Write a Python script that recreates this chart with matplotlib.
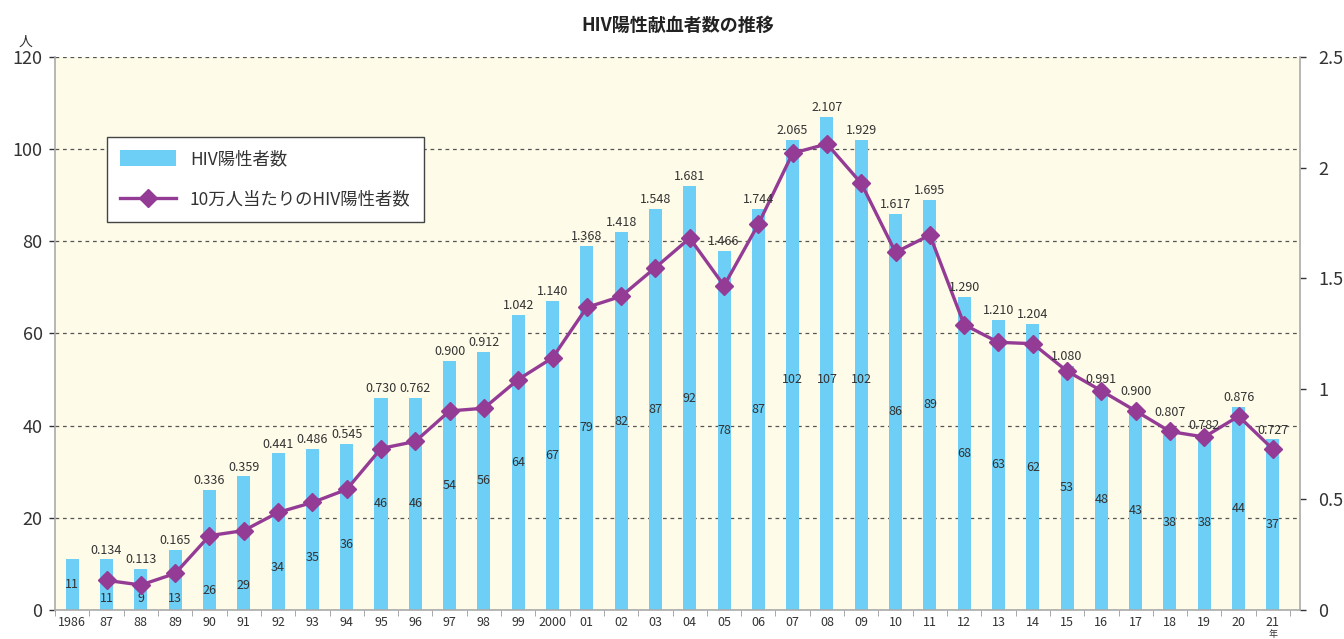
import matplotlib
matplotlib.use("Agg")
import numpy as np
import matplotlib.pyplot as plt
from matplotlib.patches import Patch
from matplotlib.lines import Line2D

plt.rcParams["font.family"] = ["Noto Sans CJK JP", "DejaVu Sans"]

# -----------------------------
# Data
# -----------------------------
years = ["1986", "87", "88", "89", "90", "91", "92", "93", "94", "95", "96", "97",
         "98", "99", "2000", "01", "02", "03", "04", "05", "06", "07", "08", "09",
         "10", "11", "12", "13", "14", "15", "16", "17", "18", "19", "20", "21"]
counts = [11, 11, 9, 13, 26, 29, 34, 35, 36, 46, 46, 54,
          56, 64, 67, 79, 82, 87, 92, 78, 87, 102, 107, 102,
          86, 89, 68, 63, 62, 53, 48, 43, 38, 38, 44, 37]
# 1986: no rate given
rates = [np.nan, 0.134, 0.113, 0.165, 0.336, 0.359, 0.441, 0.486, 0.545, 0.730, 0.762, 0.900,
         0.912, 1.042, 1.140, 1.368, 1.418, 1.548, 1.681, 1.466, 1.744, 2.065, 2.107, 1.929,
         1.617, 1.695, 1.290, 1.210, 1.204, 1.080, 0.991, 0.900, 0.807, 0.782, 0.876, 0.727]

title = "HIV陽性献血者数の推移"
bar_label = "HIV陽性者数"
line_label = "10万人当たりのHIV陽性者数"

bar_color = "#6dcff6"
line_color = "#943c95"
bg_color = "#fefbe8"
text_color = "#333333"

# -----------------------------
# Figure
# -----------------------------
fig = plt.figure(figsize=(13.44, 6.39), dpi=100)
ax = fig.add_axes([0.041, 0.0454, 0.9265, 0.8654])
ax.set_facecolor(bg_color)

x = np.arange(len(years))
ax.bar(x, counts, width=0.38, color=bar_color, zorder=2)

ax.set_xlim(-0.5, len(years) - 0.2)
ax.set_ylim(0, 120)
ax.set_yticks(np.arange(0, 121, 20))
ax.set_axisbelow(True)
ax.yaxis.grid(True, linestyle=(0, (3, 3)), color="#555555", linewidth=0.9, zorder=0)

ax.set_xticks(x)
ax.set_xticklabels(years, fontsize=9, color=text_color)
ax.tick_params(axis="x", length=0, pad=4)
ax.set_xticks(np.arange(len(years) + 1) - 0.5, minor=True)
ax.tick_params(axis="x", which="minor", length=4, color="#999999")
ax.tick_params(axis="y", labelsize=13, colors=text_color, length=4, width=1, pad=5)
for t in ax.yaxis.get_ticklines():
    t.set_color("#999999")

for side in ["top", "right"]:
    ax.spines[side].set_visible(False)
ax.spines["left"].set_color("#aaaaaa")
ax.spines["bottom"].set_color("#aaaaaa")
ax.spines["left"].set_linewidth(1.2)
ax.spines["bottom"].set_linewidth(1.2)

# right axis
ax2 = ax.twinx()
ax2.set_ylim(0, 2.5)
ax2.set_yticks([0, 0.5, 1, 1.5, 2, 2.5])
ax2.set_yticklabels(["0", "0.5", "1", "1.5", "2", "2.5"])
ax2.tick_params(axis="y", labelsize=13, colors=text_color, length=4, width=1, pad=9)
for t in ax2.yaxis.get_ticklines():
    t.set_color("#999999")
for side in ["top", "left", "bottom"]:
    ax2.spines[side].set_visible(False)
ax2.spines["right"].set_color("#aaaaaa")
ax2.spines["right"].set_linewidth(1.2)

ax2.plot(x, rates, color=line_color, linewidth=2.4, marker="D", markersize=9,
         markerfacecolor=line_color, markeredgecolor=line_color, zorder=3)

# scale factor between the two axes (120 people <-> 2.5)
k = 120 / 2.5

# count labels inside bars
for i, c in enumerate(counts):
    y = min(c / 2, 50)
    r = rates[i]
    if not np.isnan(r):
        line_y = r * k
        if line_y - y < 9 and line_y > y - 3:
            y = max(line_y - 12, 2.5)
    ax.text(i, y, str(c), ha="center", va="center", fontsize=9, color=text_color, zorder=4)

# rate labels above bars / markers
for i, r in enumerate(rates):
    if np.isnan(r):
        continue
    bar_top = counts[i] / k
    if bar_top >= r:
        anchor, off = bar_top, 2
    else:
        anchor, off = r, 9
    ax2.annotate(f"{r:.3f}", (i, anchor), xytext=(0, off), textcoords="offset points",
                 ha="center", va="bottom", fontsize=9, color=text_color, zorder=4)

# legend
handles = [Patch(facecolor=bar_color, edgecolor="none"),
           Line2D([0], [0], color=line_color, linewidth=2.4, marker="D", markersize=9)]
leg = ax2.legend(handles, [bar_label, line_label], loc="upper left",
                 bbox_to_anchor=(0.042, 0.855), borderaxespad=0, fontsize=12.5,
                 frameon=True, fancybox=False, edgecolor="#444444", framealpha=1,
                 handlelength=3.2, handleheight=1.0, borderpad=0.75, labelspacing=1.3,
                 handletextpad=0.8)
leg.get_frame().set_linewidth(1.0)
for t in leg.get_texts():
    t.set_color(text_color)

# title and unit labels
fig.text(0.504, 0.96, title, ha="center", va="center", fontsize=13, fontweight="bold", color="#222222")
fig.text(0.019, 0.934, "人", ha="center", va="center", fontsize=10, color=text_color)
ax.annotate("年", (len(years) - 1, 0), xytext=(0, -17.5), textcoords="offset points",
            ha="center", va="center", fontsize=6.5, color=text_color, annotation_clip=False)

fig.savefig("out.png", dpi=100)
